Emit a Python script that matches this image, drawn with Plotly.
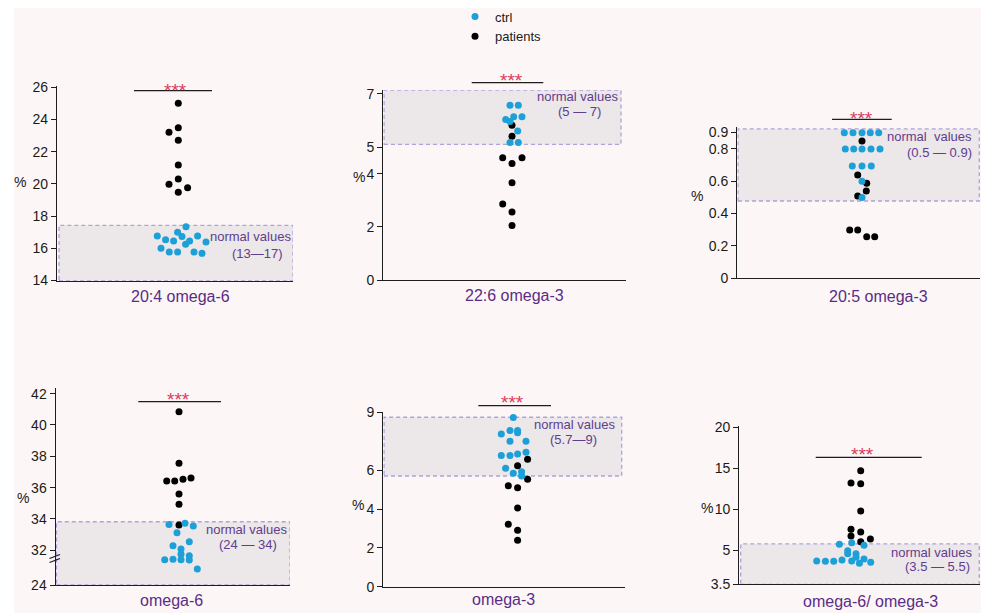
import plotly.graph_objects as go

W, H = 981, 613

# ---------------- data ----------------
titles = ["20:4 omega-6", "22:6 omega-3", "20:5 omega-3", "omega-6", "omega-3", "omega-6/ omega-3"]
normal_ranges = ["(13—17)", "(5 — 7)", "(0.5 — 0.9)", "(24 — 34)", "(5.7—9)", "(3.5 — 5.5)"]
normal_label = ["normal values", "normal values", "normal  values", "normal values", "normal values", "normal values"]
significance = ["***"] * 6

p1_ctrl = [17.34, 16.76, 16.99, 16.72, 16.76, 16.52, 16.45, 16.45, 16.39, 16.24, 16.00, 15.76, 15.76, 15.76, 15.68]
p1_ctrl_swarm = [7.7, -21, -0.7, 3.7, 19.3, -12.7, -4.7, 11.3, 27.7, 7.3, -17.3, -9, -0.7, 15.7, 23.7]
p1_pat = [25.01, 23.49, 23.20, 22.71, 21.17, 20.30, 19.97, 19.76, 19.47]
p1_pat_swarm = [0, 0, -9.3, 0, 0, 0, -9.3, 9.3, 0]
p1_ticks = [14, 16, 18, 20, 22, 24, 26]
p1_ticktext = ["14", "16", "18", "20", "22", "24", "26"]

p2_ctrl = [6.57, 6.57, 6.04, 6.14, 6.14, 5.96, 5.60, 5.17, 5.17]
p2_ctrl_swarm = [-2, 6.3, -6.3, 1.7, 10, -2, 5.7, -2, 6.3]
p2_pat = [5.82, 5.41, 4.60, 4.60, 4.38, 3.66, 2.86, 2.56, 2.05]
p2_pat_swarm = [0, 0, -9.3, 10, 0, 0, -9.3, 0, 0]
p2_ticks = [0, 2, 4, 5, 7]
p2_ticktext = ["0", "2", "4", "5", "7"]

p3_ctrl = [0.899, 0.899, 0.899, 0.899, 0.899, 0.798, 0.798, 0.798, 0.798, 0.798, 0.693, 0.693, 0.693, 0.599, 0.498]
p3_ctrl_swarm = [-17.7, -9, 0, 8.3, 16.7, -16.7, -8.3, 0, 9, 18, -9.7, 0, 9.3, 0, 0]
p3_pat = [0.848, 0.638, 0.586, 0.539, 0.508, 0.298, 0.298, 0.257, 0.257]
p3_pat_swarm = [0, -4.3, 4.7, 4.3, -4.3, -12.3, -4.3, 4.7, 12.7]
p3_ticks = [0, 0.2, 0.4, 0.6, 0.8, 0.9]
p3_ticktext = ["0", "0.2", "0.4", "0.6", "0.8", "0.9"]

p4_ctrl = [33.65, 33.72, 33.55, 33.12, 32.29, 32.54, 32.08, 31.74, 31.65, 31.39, 31.42, 31.39, 31.37, 30.80]
p4_ctrl_swarm = [-10, 6, 14.3, -2, -6, 10.3, 2, 2, 10.3, -14.3, -6, 2, 10.3, 18.3]
p4_pat = [40.85, 37.55, 36.42, 36.42, 36.53, 36.61, 35.59, 34.93, 33.61]
p4_pat_swarm = [0, 0, -12.3, -4.3, 4, 12, 0, 0, 0]
p4_ticks = [29.78, 32, 34, 36, 38, 40, 42]
p4_ticktext = ["24", "32", "34", "36", "38", "40", "42"]

p5_ctrl = [8.72, 7.88, 8.05, 8.05, 7.94, 7.50, 7.50, 6.76, 6.76, 6.84, 6.93, 6.11, 5.85, 5.93, 5.71]
p5_ctrl_swarm = [0, -12, -3.3, 4.3, 4.3, -3.3, 12.7, -12, -3.3, 4.3, 12.7, -7.7, 0, 8.3, 8.3]
p5_pat = [6.24, 6.57, 5.54, 5.21, 5.10, 4.06, 3.22, 2.91, 2.39]
p5_pat_swarm = [4.3, 14.3, 14.3, -5, 4.3, 4.3, -5, 4.3, 4.3]
p5_ticks = [0, 2, 4, 6, 9]
p5_ticktext = ["0", "2", "4", "6", "9"]

p6_ctrl = [5.76, 5.95, 5.64, 4.98, 4.62, 4.62, 4.18, 3.97, 3.73, 3.69, 3.69, 3.85, 3.73, 3.45, 3.57]
p6_ctrl_swarm = [-17.3, -5, 7.3, -9, -9, -0.7, -0.7, 7.3, -40, -31.3, -23, -14.7, -5, 2.7, 14]
p6_pat = [14.70, 13.21, 13.12, 9.81, 7.58, 7.25, 6.77, 6.40, 6.08]
p6_pat_swarm = [4, -5.7, 4, 4, -5.7, 4, -5.7, 13.7, 4]
p6_ticks = [0.9, 5, 10, 15, 20]
p6_ticktext = ["3.5", "5", "10", "15", "20"]

# normal-range band as drawn (None = from the axis floor)
band_low = [None, 5.10, 0.477, None, 5.71, None]
band_high = [17.42, 7.14, 0.922, 33.82, 8.74, 5.80]

# ---------------- layout geometry (pixels) ----------------
panels = [
    dict(ax=57, right=293, center=178.3, top=86, bottom=280.7, yr=[13.98, 26.08], box=(59, 293),
         star=(175, 86), br=(134, 212, 90.7), title=(180, 296.7), pct=(20, 181.7),
         nv1=(293, 236, "right"), nv2=(257.5, 253.3, "center")),
    dict(ax=383.3, right=626, center=512, top=89.9, bottom=280, yr=[0, 7.15], box=(384, 621),
         star=(511.7, 76.7), br=(471.7, 543.3, 82.7), title=(514, 295), pct=(359.3, 177.3),
         nv1=(620, 96.7, "right"), nv2=(579, 111.7, "center")),
    dict(ax=737.3, right=980, center=862, top=127.3, bottom=278.3, yr=[0, 0.932], box=(738, 979.3),
         star=(861.7, 114), br=(832, 891.7, 119.3), title=(878.3, 296.7), pct=(696.7, 196),
         nv1=(974, 136, "right"), nv2=(974, 152.7, "right")),
    dict(ax=55.7, right=290, center=179, top=388, bottom=585, yr=[29.78, 42.36], box=(56.5, 290),
         star=(178.3, 395), br=(138.3, 221, 401.7), title=(171.7, 600), pct=(23.3, 498.3),
         nv1=(289.3, 529.3, "right"), nv2=(248.3, 544.3, "center")),
    dict(ax=383.3, right=625, center=513.3, top=411.8, bottom=586.7, yr=[0, 9.02], box=(384, 621.7),
         star=(512, 398.3), br=(478.3, 551, 405.7), title=(503, 599.3), pct=(357.7, 505),
         nv1=(617.3, 424, "right"), nv2=(573.7, 439.5, "center")),
    dict(ax=739.3, right=980, center=856.7, top=426, bottom=584.3, yr=[0.9, 20.13], box=(740.7, 979.3),
         star=(862.7, 450.7), br=(815.7, 921.7, 457.3), title=(870, 601.7), pct=(706.7, 508.3),
         nv1=(974, 552.3, "right"), nv2=(971.7, 566.7, "right")),
]

ctrl_vals = [p1_ctrl, p2_ctrl, p3_ctrl, p4_ctrl, p5_ctrl, p6_ctrl]
ctrl_swarm = [p1_ctrl_swarm, p2_ctrl_swarm, p3_ctrl_swarm, p4_ctrl_swarm, p5_ctrl_swarm, p6_ctrl_swarm]
pat_vals = [p1_pat, p2_pat, p3_pat, p4_pat, p5_pat, p6_pat]
pat_swarm = [p1_pat_swarm, p2_pat_swarm, p3_pat_swarm, p4_pat_swarm, p5_pat_swarm, p6_pat_swarm]
tick_vals = [p1_ticks, p2_ticks, p3_ticks, p4_ticks, p5_ticks, p6_ticks]
tick_text = [p1_ticktext, p2_ticktext, p3_ticktext, p4_ticktext, p5_ticktext, p6_ticktext]

BLUE = "#1d9fd8"
BLACK = "#000000"
PURPLE = "#5b2c86"
NV_PURPLE = "#603d8f"
RED = "#dc3b5c"
AXIS = "#1e1e1e"
PAGE_BG = "#fcf7f6"
BAND_FILL = "#ece7e8"
BAND_LINE = "#aea3da"
FONT = "Liberation Sans, Arial, sans-serif"


def fx(x):
    return x / W


def fy(y):
    return 1 - y / H


fig = go.Figure()
shapes = []
annotations = []

shapes.append(dict(type="rect", xref="paper", yref="paper", x0=fx(14), x1=1, y0=0, y1=fy(8),
                   fillcolor=PAGE_BG, line=dict(width=0), layer="below"))

for i, p in enumerate(panels):
    n = "" if i == 0 else str(i + 1)
    xr, yr_ = "x" + n, "y" + n
    xmin, xmax = -(p["center"] - p["ax"]), p["right"] - p["center"]
    fig.layout["xaxis" + n] = dict(domain=[fx(p["ax"]), fx(p["right"])], range=[xmin, xmax],
                                   anchor=yr_, showline=True, linecolor=AXIS, linewidth=1.4,
                                   showticklabels=False, ticks="", showgrid=False, zeroline=False,
                                   fixedrange=True, automargin=False)
    fig.layout["yaxis" + n] = dict(domain=[fy(p["bottom"]), fy(p["top"])], range=p["yr"],
                                   anchor=xr, showline=True, linecolor=AXIS, linewidth=1.4,
                                   tickvals=tick_vals[i], ticktext=tick_text[i], ticks="outside",
                                   ticklen=5, tickwidth=1.2, tickcolor=AXIS, showgrid=False,
                                   zeroline=False, fixedrange=True, automargin=False,
                                   tickfont=dict(family=FONT, size=14, color="#1a1a1a"))
    lo = p["yr"][0] if band_low[i] is None else band_low[i]
    shapes.append(dict(type="rect", xref=xr, yref=yr_,
                       x0=p["box"][0] - p["center"], x1=p["box"][1] - p["center"],
                       y0=lo, y1=band_high[i], fillcolor=BAND_FILL,
                       line=dict(color=BAND_LINE, width=1.3, dash="4px,3px"), layer="below"))
    fig.add_trace(go.Scatter(x=pat_swarm[i], y=pat_vals[i], mode="markers", name="patients",
                             xaxis=xr, yaxis=yr_, legendrank=2, showlegend=(i == 0),
                             marker=dict(color=BLACK, size=7, line=dict(width=0)),
                             hoverinfo="y", cliponaxis=False))
    fig.add_trace(go.Scatter(x=ctrl_swarm[i], y=ctrl_vals[i], mode="markers", name="ctrl",
                             xaxis=xr, yaxis=yr_, legendrank=1, showlegend=(i == 0),
                             marker=dict(color=BLUE, size=7, line=dict(width=0)),
                             hoverinfo="y", cliponaxis=False))
    bx0, bx1, by = p["br"]
    shapes.append(dict(type="line", xref="paper", yref="paper", x0=fx(bx0), x1=fx(bx1),
                       y0=fy(by), y1=fy(by), line=dict(color=AXIS, width=1.3)))
    annotations.append(dict(text=significance[i], x=fx(p["star"][0]), y=fy(p["star"][1] + 4),
                            xref="paper", yref="paper", showarrow=False, xanchor="center",
                            yanchor="middle", font=dict(family=FONT, size=19, color=RED)))
    annotations.append(dict(text=titles[i], x=fx(p["title"][0]), y=fy(p["title"][1]),
                            xref="paper", yref="paper", showarrow=False, xanchor="center",
                            yanchor="middle", font=dict(family=FONT, size=16, color=PURPLE)))
    annotations.append(dict(text="%", x=fx(p["pct"][0]), y=fy(p["pct"][1]), xref="paper",
                            yref="paper", showarrow=False, xanchor="center", yanchor="middle",
                            font=dict(family=FONT, size=14, color="#1a1a1a")))
    for (tx, ty, anc), txt in ((p["nv1"], normal_label[i]), (p["nv2"], normal_ranges[i])):
        annotations.append(dict(text=txt, x=fx(tx), y=fy(ty), xref="paper", yref="paper",
                                showarrow=False, xanchor=anc, yanchor="middle",
                                font=dict(family=FONT, size=13, color=NV_PURPLE)))

# axis-break marks on the omega-6 panel
for dy in (0, 4):
    shapes.append(dict(type="line", xref="paper", yref="paper", x0=fx(49.5), x1=fx(60),
                       y0=fy(562.5 - dy), y1=fy(558.5 - dy), line=dict(color=AXIS, width=1.3)))

fig.update_layout(
    width=W, height=H, autosize=False,
    margin=dict(l=0, r=0, t=0, b=0, pad=0, autoexpand=False),
    paper_bgcolor="white", plot_bgcolor="rgba(0,0,0,0)",
    shapes=shapes, annotations=annotations,
    showlegend=True,
    legend=dict(x=fx(455), y=fy(1.5), xanchor="left", yanchor="top", bgcolor="rgba(0,0,0,0)",
                font=dict(family=FONT, size=13, color="#1a1a1a"), itemwidth=30,
                tracegroupgap=0, traceorder="normal"),
    font=dict(family=FONT),
)

fig.write_html("out.html", config={"displayModeBar": False},
               post_script="document.body.style.margin='0';document.body.style.overflow='hidden';")
